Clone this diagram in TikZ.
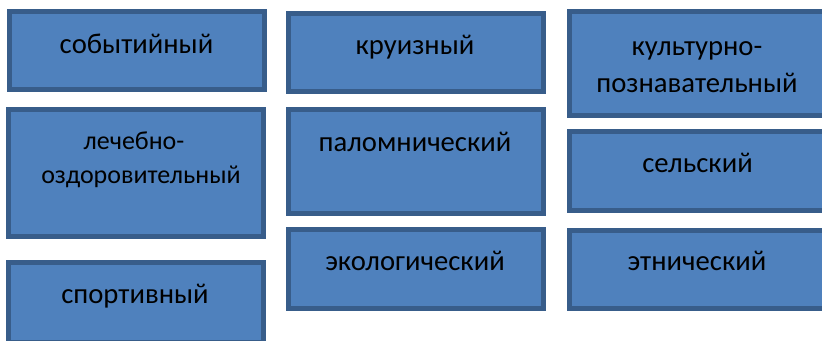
\documentclass[tikz,border=0pt]{standalone}
\usepackage{fontspec}
\setmainfont{Carlito}
\definecolor{boxfill}{HTML}{4F81BD}
\definecolor{boxline}{HTML}{385D8A}
\begin{document}
\begin{tikzpicture}[x=0.75pt,y=-0.75pt,
  box/.style 2 args={draw=boxline,fill=boxfill,line width=3.75pt,inner sep=0pt,
    minimum width=#1*0.75pt,minimum height=#2*0.75pt},
  lbl/.style={anchor=base,inner sep=0pt,font=\fontsize{21.5pt}{26pt}\selectfont,text=black},
  lblsmall/.style={lbl,font=\fontsize{19.5pt}{24pt}\selectfont}]
\useasboundingbox (0,0) rectangle (822,340);
\clip (0,0) rectangle (822,340);
\node[box={255}{78}]  (b1) at (137,50.5) {};
\node[box={255}{78}]  (b2) at (416,52.5) {};
\node[box={255}{104}] (b3) at (697,63.5) {};
\node[box={255}{127}] (b4) at (136,173) {};
\node[box={255}{80}]  (b5) at (136,302.5) {};
\node[box={255}{104}] (b6) at (416,161.5) {};
\node[box={255}{79}]  (b7) at (416,269) {};
\node[box={255}{79}]  (b8) at (697,171) {};
\node[box={255}{78}]  (b9) at (697,269.5) {};
\node[lbl] (t1) at (136.5,53) {событийный};
\node[lbl] (t2) at (415,54) {круизный};
\node[lbl] (t3a) at (697,55) {культурно-};
\node[lbl] (t3b) at (697,92) {познавательный};
\node[lblsmall] (t4a) at (134,149) {лечебно-};
\node[lblsmall] (t4b) at (141,183) {оздоровительный};
\node[lbl] (t5) at (135,303) {спортивный};
\node[lbl] (t6) at (415,151) {паломнический};
\node[lbl] (t7) at (415,270) {экологический};
\node[lbl] (t8) at (697.5,172) {сельский};
\node[lbl] (t9) at (697,270) {этнический};
\end{tikzpicture}
\end{document}
